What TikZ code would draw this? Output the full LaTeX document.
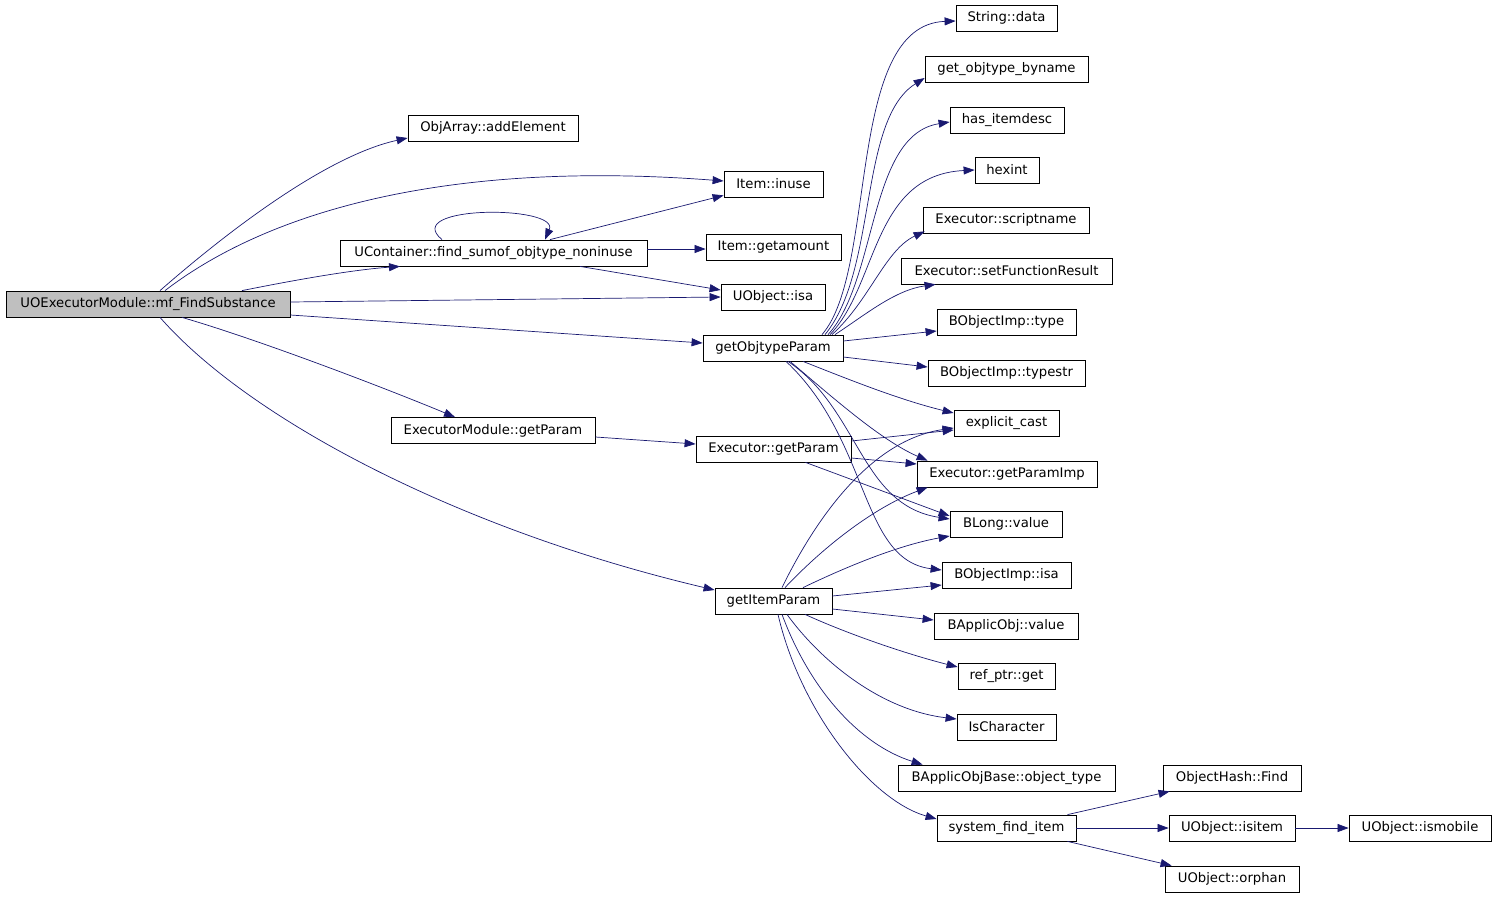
\documentclass[tikz,border=0pt]{standalone}
\usepackage{fontspec}
\setmainfont{DejaVu Sans}
\usetikzlibrary{arrows.meta}
\definecolor{edgeblue}{HTML}{191970}
\definecolor{rootgray}{HTML}{BFBFBF}
\tikzset{
  fn/.style={draw=black, line width=0.8pt, fill=white, minimum height=26pt, inner sep=0pt, font=\fontsize{13.2}{15}\selectfont},
  root/.style={fn, fill=rootgray},
  call/.style={draw=edgeblue, line width=0.7pt, -{Triangle[length=11pt,width=8pt]}, fill=none}
}
\begin{document}
\begin{tikzpicture}[x=1pt,y=-1pt]
\useasboundingbox (0,0) rectangle (1496,899);
% nodes
\node[root, minimum width=284pt] (m) at (148,304) {UOExecutorModule::mf\_FindSubstance};
\node[fn, minimum width=170pt] (addEl) at (493,128) {ObjArray::addElement};
\node[fn, minimum width=99pt] (inuse) at (773.5,184) {Item::inuse};
\node[fn, minimum width=307pt] (uc) at (493.5,253) {UContainer::find\_sumof\_objtype\_noninuse};
\node[fn, minimum width=135pt] (ga) at (773.5,247) {Item::getamount};
\node[fn, minimum width=104pt] (uisa) at (773,297) {UObject::isa};
\node[fn, minimum width=140pt] (gop) at (773,348) {getObjtypeParam};
\node[fn, minimum width=204pt] (emgp) at (493,430.5) {ExecutorModule::getParam};
\node[fn, minimum width=155pt] (egp) at (773.5,449) {Executor::getParam};
\node[fn, minimum width=117pt] (gip) at (773.5,601) {getItemParam};
\node[fn, minimum width=101pt] (sdata) at (1006.5,18) {String::data};
\node[fn, minimum width=163pt] (gob) at (1006.5,69) {get\_objtype\_byname};
\node[fn, minimum width=114pt] (hid) at (1007,120) {has\_itemdesc};
\node[fn, minimum width=64pt] (hexint) at (1007,170) {hexint};
\node[fn, minimum width=166pt] (esn) at (1006,220) {Executor::scriptname};
\node[fn, minimum width=211pt] (esfr) at (1006.5,271) {Executor::setFunctionResult};
\node[fn, minimum width=139pt] (bit) at (1006.5,322) {BObjectImp::type};
\node[fn, minimum width=157pt] (bits) at (1006.5,373) {BObjectImp::typestr};
\node[fn, minimum width=105pt] (ec) at (1006.5,423) {explicit\_cast};
\node[fn, minimum width=180pt] (egpi) at (1007,474) {Executor::getParamImp};
\node[fn, minimum width=112pt] (blv) at (1006,524) {BLong::value};
\node[fn, minimum width=129pt] (bisa) at (1006.5,575) {BObjectImp::isa};
\node[fn, minimum width=144pt] (bav) at (1006,626) {BApplicObj::value};
\node[fn, minimum width=97pt] (rpg) at (1006.5,676) {ref\_ptr::get};
\node[fn, minimum width=99pt] (isc) at (1006.5,727) {IsCharacter};
\node[fn, minimum width=217pt] (bot) at (1006.5,778) {BApplicObjBase::object\_type};
\node[fn, minimum width=139pt] (sfi) at (1006.5,828) {system\_find\_item};
\node[fn, minimum width=138pt] (ohf) at (1232,778) {ObjectHash::Find};
\node[fn, minimum width=126pt] (uisi) at (1232,828) {UObject::isitem};
\node[fn, minimum width=142pt] (uism) at (1420,828) {UObject::ismobile};
\node[fn, minimum width=134pt] (uorph) at (1232,879) {UObject::orphan};
% edges from root
\draw[call] ([xshift=12pt]m.north) .. controls (235,225) and (330,155) .. ([yshift=-10pt]addEl.west);
\draw[call] ([xshift=17pt]m.north) .. controls (270,210) and (450,160) .. ([yshift=3pt]inuse.west);
\draw[call] ([xshift=94pt]m.north) .. controls (290,281) and (350,270) .. ([xshift=-93.5pt]uc.south);
\draw[call] ([yshift=2pt]m.east) -- (uisa.west);
\draw[call] ([yshift=-11pt]m.east) -- ([yshift=5pt]gop.west);
\draw[call] ([xshift=34pt]m.south) .. controls (260,340) and (390,390) .. ([xshift=-38pt]emgp.north);
\draw[call] ([xshift=12pt]m.south) .. controls (250,420) and (460,530) .. ([yshift=11pt]gip.west);
% UContainer
\draw[call] ([xshift=-51.5pt]uc.north) .. controls (400,205) and (560,205) .. ([xshift=51.5pt]uc.north);
\draw[call] ([xshift=56.5pt]uc.north) -- ([yshift=2pt]inuse.south west);
\draw[call] ([yshift=4pt]uc.east) -- ([yshift=-2pt]ga.west);
\draw[call] ([xshift=86.5pt]uc.south) -- ([yshift=7pt]uisa.west);
% ExecutorModule::getParam
\draw[call] ([yshift=-6.5pt]emgp.east) -- ([yshift=5pt]egp.west);
% getObjtypeParam
\draw[call] ([xshift=49pt]gop.north) .. controls (878,270) and (845,25) .. ([yshift=-3pt]sdata.west);
\draw[call] ([xshift=52pt]gop.north) .. controls (878,270) and (858,120) .. ([yshift=-9pt]gob.west);
\draw[call] ([xshift=55pt]gop.north) .. controls (878,280) and (868,135) .. ([yshift=-2pt]hid.west);
\draw[call] ([xshift=57pt]gop.north) .. controls (878,285) and (872,175) .. (hexint.west);
\draw[call] ([xshift=59pt]gop.north) .. controls (870,300) and (885,250) .. ([xshift=2pt,yshift=2pt]esn.south west);
\draw[call] ([xshift=62pt]gop.north) .. controls (865,315) and (895,290) .. ([xshift=35pt]esfr.south west);
\draw[call] ([yshift=7pt]gop.east) -- ([yshift=-9pt]bit.west);
\draw[call] ([yshift=-9pt]gop.east) -- ([yshift=6pt]bits.west);
\draw[call] ([xshift=30pt]gop.south) .. controls (850,380) and (900,400) .. ([yshift=10pt]ec.west);
\draw[call] ([xshift=17pt]gop.south) .. controls (830,395) and (880,440) .. ([xshift=11pt]egpi.north west);
\draw[call] ([xshift=15pt]gop.south) .. controls (860,410) and (860,505) .. ([yshift=5pt]blv.west);
\draw[call] ([xshift=13pt]gop.south) .. controls (870,440) and (860,560) .. ([yshift=5pt]bisa.west);
% Executor::getParam
\draw[call] ([yshift=8pt]egp.east) -- ([yshift=-7pt]ec.west);
\draw[call] ([yshift=-9pt]egp.east) -- ([yshift=10pt]egpi.west);
\draw[call] ([xshift=32pt]egp.south) -- ([yshift=8pt]blv.west);
% getItemParam
\draw[call] ([xshift=8.5pt]gip.north) .. controls (815,520) and (870,440) .. ([yshift=-5pt]ec.west);
\draw[call] ([xshift=11.5pt]gip.north) .. controls (830,540) and (880,505) .. ([xshift=11pt]egpi.south west);
\draw[call] ([xshift=29.5pt]gip.north) .. controls (850,565) and (900,545) .. ([yshift=-12pt]blv.west);
\draw[call] ([yshift=5pt]gip.east) -- ([yshift=-10pt]bisa.west);
\draw[call] ([yshift=-8pt]gip.east) -- ([yshift=6pt]bav.west);
\draw[call] ([xshift=31.5pt]gip.south) .. controls (850,635) and (910,655) .. ([yshift=9pt]rpg.west);
\draw[call] ([xshift=13.5pt]gip.south) .. controls (820,660) and (880,710) .. ([yshift=8pt]isc.west);
\draw[call] ([xshift=8.5pt]gip.south) .. controls (810,690) and (860,745) .. ([xshift=25pt]bot.north west);
\draw[call] ([xshift=4.5pt]gip.south) .. controls (800,710) and (870,800) .. ([yshift=9pt]sfi.west);
% system_find_item
\draw[call] ([xshift=61pt]sfi.north) -- ([xshift=7pt]ohf.south west);
\draw[call] (sfi.east) -- (uisi.west);
\draw[call] ([xshift=61pt]sfi.south) -- ([xshift=7pt]uorph.north west);
\draw[call] (uisi.east) -- (uism.west);
\end{tikzpicture}
\end{document}
